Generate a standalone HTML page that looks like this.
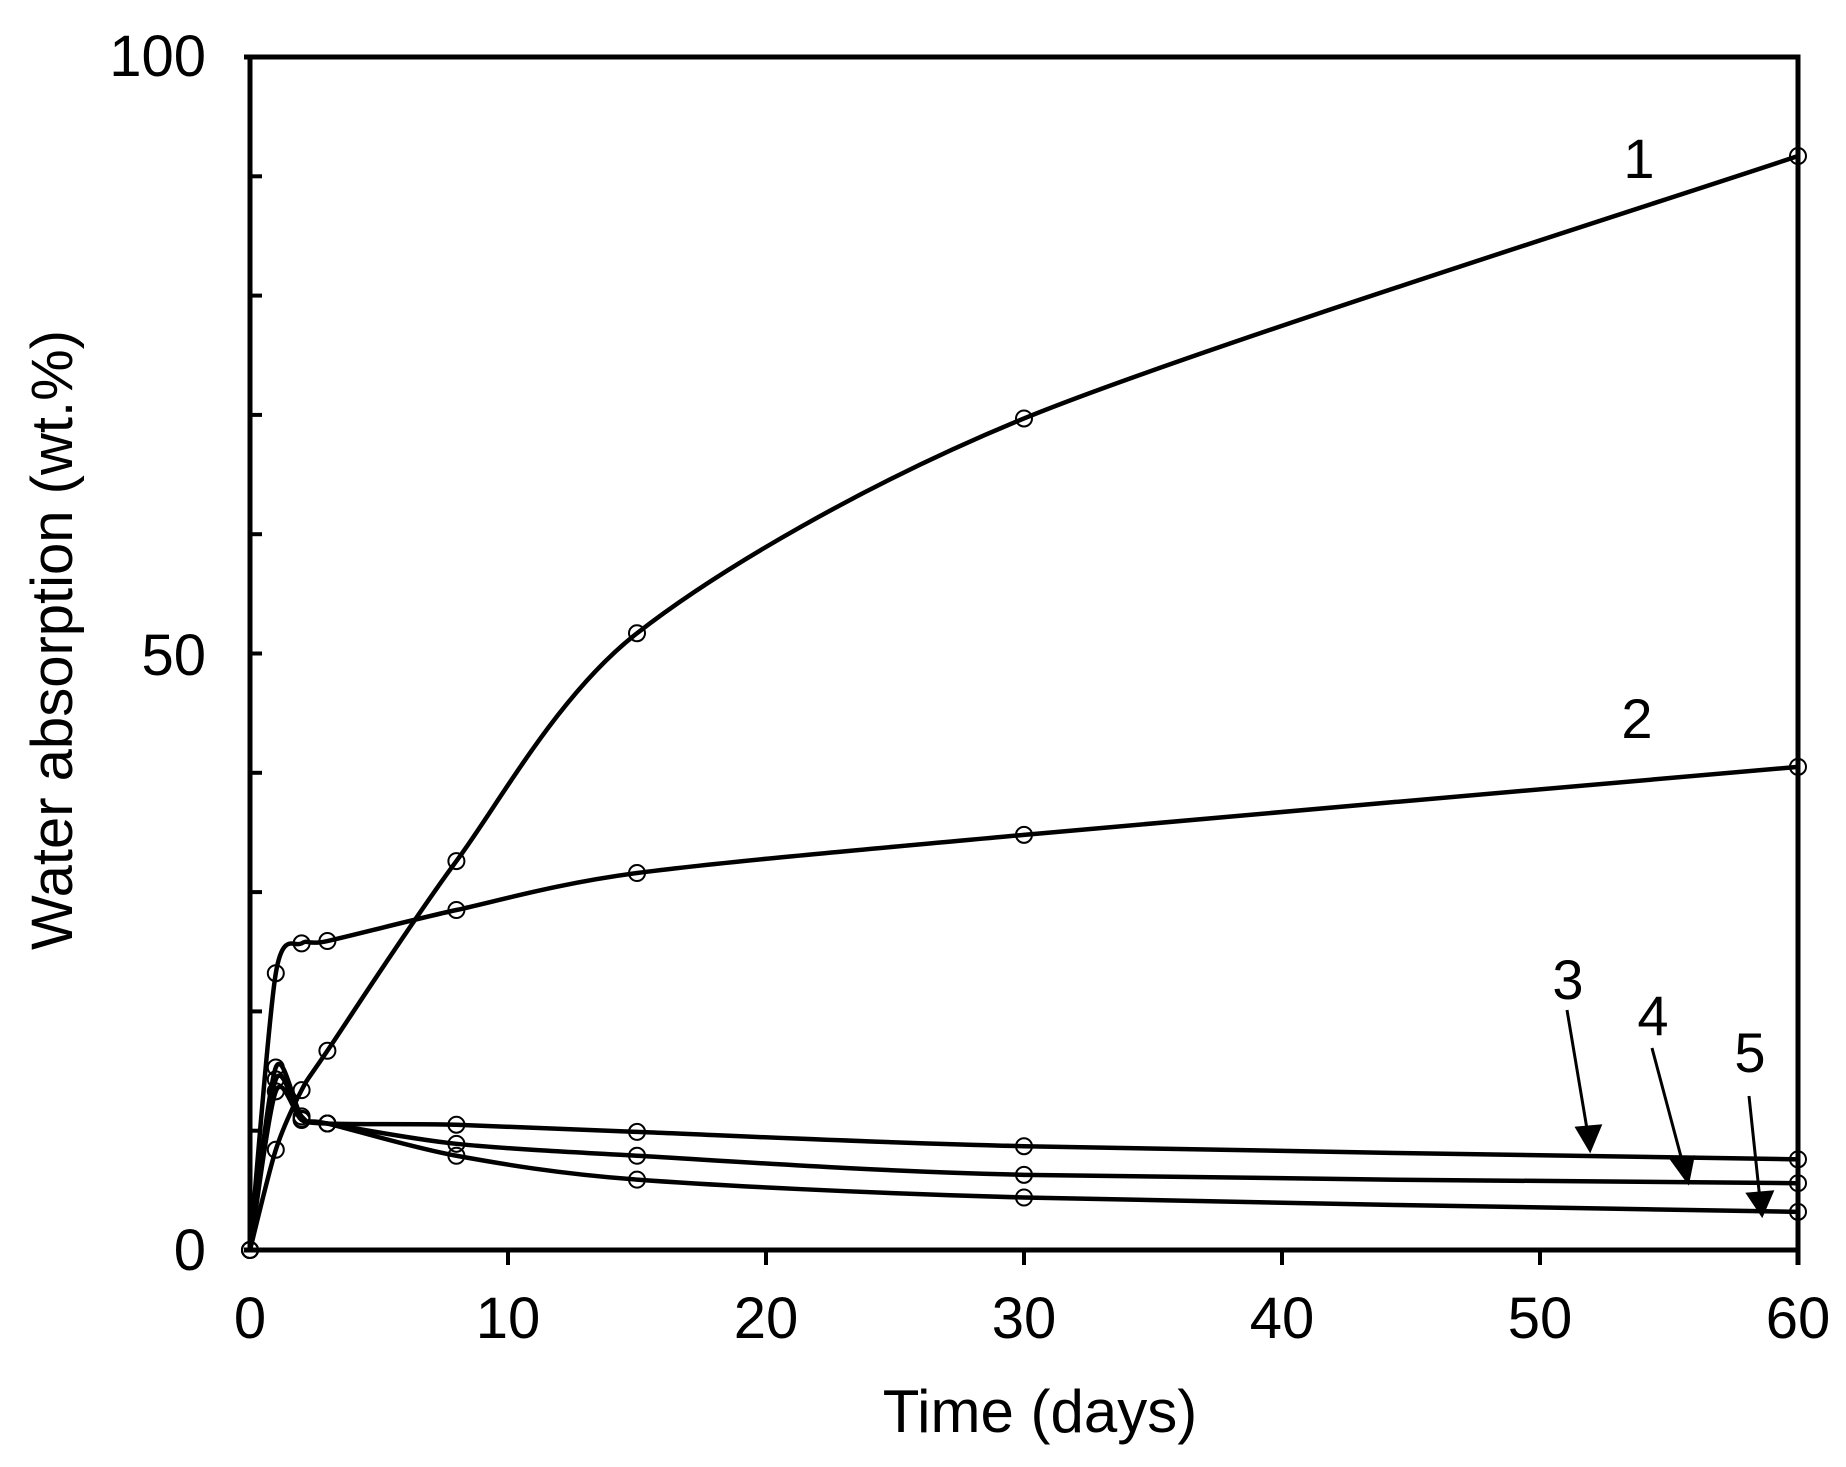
<!DOCTYPE html>
<html><head><meta charset="utf-8"><style>
html,body{margin:0;padding:0;background:#fff;}
svg{display:block;font-family:"Liberation Sans",Arial,sans-serif;}
</style></head><body>
<svg id="s" width="1846" height="1467" viewBox="0 0 1846 1467" xmlns="http://www.w3.org/2000/svg">
<g stroke="#000" stroke-width="5" fill="none">
<polyline points="250,1250 250,57 1798,57 1798,1265"/>
<line x1="244" y1="1250" x2="1798" y2="1250"/>
<line x1="244" y1="57" x2="250" y2="57"/>
</g>
<g id="ticks" stroke="#000" stroke-width="4"></g>
<g font-size="58" fill="#000" text-anchor="end">
<text x="206" y="76">100</text>
<text x="206" y="675">50</text>
<text x="206" y="1270">0</text>
</g>
<g font-size="58" fill="#000" text-anchor="middle">
<text x="250" y="1338">0</text><text x="508" y="1338">10</text><text x="766" y="1338">20</text>
<text x="1024" y="1338">30</text><text x="1282" y="1338">40</text><text x="1540" y="1338">50</text><text x="1798" y="1338">60</text>
<text x="1040" y="1432" font-size="60">Time (days)</text>
<text transform="translate(72,640) rotate(-90)" font-size="58">Water absorption (wt.%)</text>
<text x="1639" y="178" font-size="56">1</text>
<text x="1637" y="738" font-size="56">2</text>
<text x="1568" y="999" font-size="56">3</text>
<text x="1653" y="1035" font-size="56">4</text>
<text x="1750" y="1072" font-size="56">5</text>
</g>
<g id="curves" stroke="#000" stroke-width="4.5" fill="none"></g>
<g id="marks" stroke="#000" stroke-width="2" fill="none"></g>
<g stroke="#000" stroke-width="3" fill="#000">
<line x1="1567" y1="1010" x2="1588" y2="1135"/><polygon points="1577,1128 1600,1126 1590,1150"/>
<line x1="1652" y1="1048" x2="1684" y2="1168"/><polygon points="1672,1160 1693,1157 1688,1182"/>
<line x1="1749" y1="1096" x2="1760" y2="1200"/><polygon points="1748,1194 1772,1192 1762,1215"/>
</g>
</svg>
<script>
var X=function(d){return 250+d*25.8;},Y=function(v){return 1250-v*11.93;};
var t=document.getElementById('ticks'),h='';
for(var v=10;v<100;v+=10){h+='<line x1="250" y1="'+Y(v)+'" x2="262" y2="'+Y(v)+'"/>';}
for(var d=10;d<=50;d+=10){h+='<line x1="'+X(d)+'" y1="1250" x2="'+X(d)+'" y2="1265"/>';}
t.innerHTML=h;
var xs=[0,1,2,3,8,15,30,60];
var S=[[0,8.4,13.4,16.7,32.6,51.7,69.7,91.7],[0,23.2,25.7,25.9,28.5,31.6,34.8,40.5],
[0,15.3,11.2,10.6,10.5,9.9,8.7,7.6],[0,14.3,11.0,10.6,8.9,7.9,6.3,5.6],[0,13.3,10.9,10.6,7.9,5.9,4.4,3.2]];
var c='',m='';
S.forEach(function(ys){
 var p=xs.map(function(x,i){return [X(x),Y(ys[i])];});
 var d='M'+p[0][0]+','+p[0][1];
 for(var i=0;i<p.length-1;i++){
  var p0=p[i-1]||p[i],p1=p[i],p2=p[i+1],p3=p[i+2]||p[i+1];
  var k=0.14;
  d+=' C'+(p1[0]+(p2[0]-p0[0])*k)+','+(p1[1]+(p2[1]-p0[1])*k)+' '+(p2[0]-(p3[0]-p1[0])*k)+','+(p2[1]-(p3[1]-p1[1])*k)+' '+p2[0]+','+p2[1];
 }
 c+='<path d="'+d+'"/>';
 p.forEach(function(q){m+='<circle cx="'+q[0]+'" cy="'+q[1]+'" r="8"/>';});
});
document.getElementById('curves').innerHTML=c;
document.getElementById('marks').innerHTML=m;
</script>
</body></html>
